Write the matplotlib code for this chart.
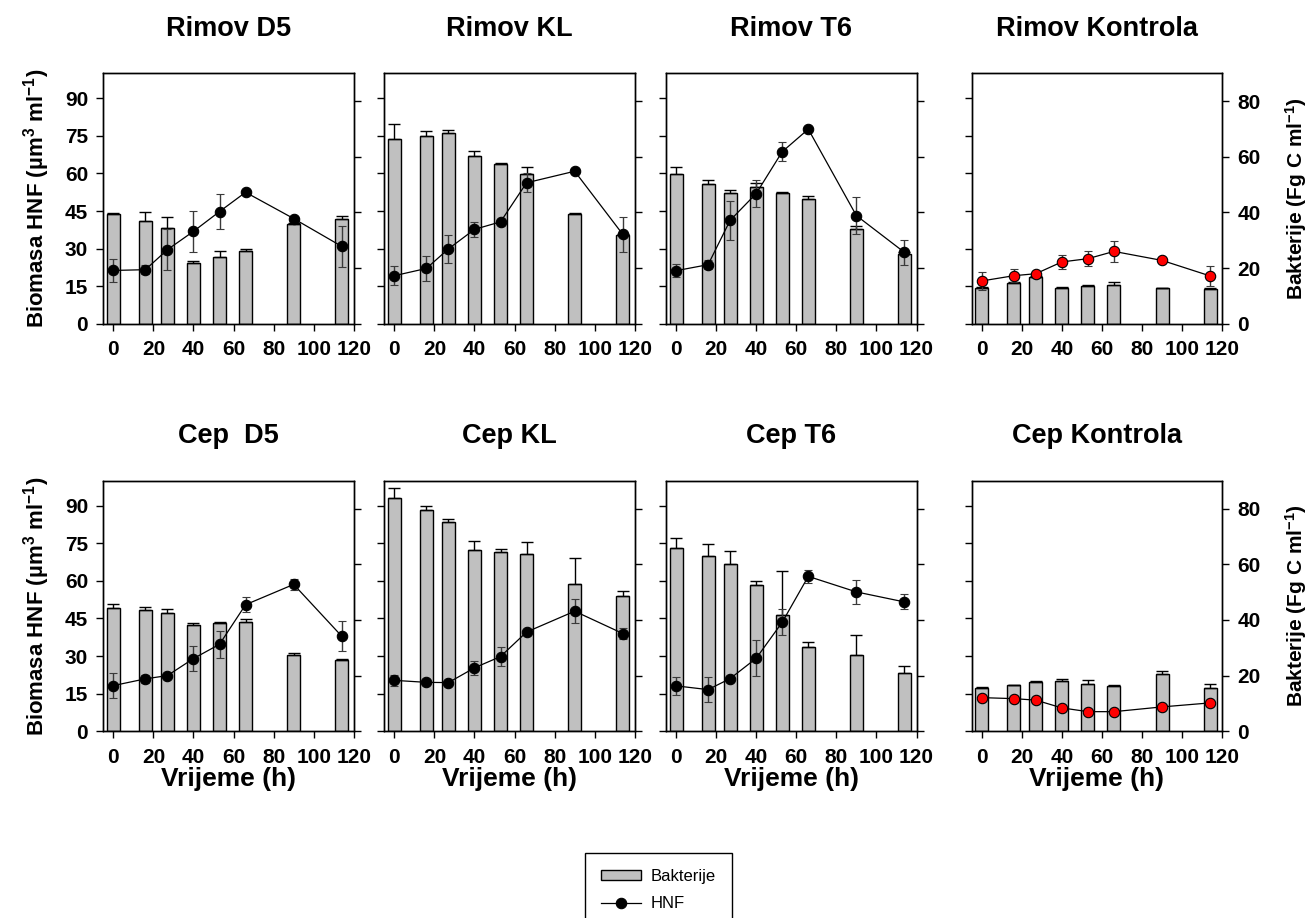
import numpy as np
import matplotlib
matplotlib.use("Agg")
import matplotlib.pyplot as plt

plt.rcParams['font.family'] = ['Liberation Sans', 'DejaVu Sans']
plt.rcParams['font.weight'] = 'bold'
plt.rcParams['axes.labelweight'] = 'bold'
plt.rcParams['mathtext.fontset'] = 'custom'
plt.rcParams['mathtext.rm'] = 'Liberation Sans:bold'
plt.rcParams['mathtext.bf'] = 'Liberation Sans:bold'
plt.rcParams['mathtext.default'] = 'bf'

########
# data #
########

time = [0, 16, 27, 40, 53, 66, 90, 114]

titles = ["Rimov D5", "Rimov KL", "Rimov T6", "Rimov Kontrola",
          "Cep  D5", "Cep KL", "Cep T6", "Cep Kontrola"]

# bakterije (bars, right axis)
bact_rimov_d5 = [39.5, 36.9, 34.5, 21.9, 24.1, 26.2, 36.0, 37.5]
bact_rimov_kl = [66.5, 67.6, 68.7, 60.3, 57.3, 53.9, 39.5, 31.9]
bact_rimov_t6 = [53.9, 50.4, 46.9, 49.2, 46.9, 44.9, 33.9, 24.9]
bact_rimov_k = [12.9, 14.7, 16.7, 13.0, 13.5, 14.0, 12.8, 12.5]
bact_cep_d5 = [44.3, 43.4, 42.5, 38.1, 38.7, 39.2, 27.5, 25.6]
bact_cep_kl = [83.8, 79.4, 75.0, 65.1, 64.4, 63.7, 52.9, 48.7]
bact_cep_t6 = [65.9, 62.9, 59.9, 52.7, 41.6, 30.3, 27.4, 20.8]
bact_cep_k = [15.6, 16.5, 17.7, 18.0, 17.1, 16.4, 20.4, 15.4]

bact_err_rimov_d5 = [0.3, 3.4, 3.7, 0.6, 2.0, 0.7, 0.3, 1.4]
bact_err_rimov_kl = [5.2, 1.7, 0.8, 1.8, 0.4, 2.4, 0.2, 0.5]
bact_err_rimov_t6 = [2.6, 1.2, 1.1, 1.5, 0.4, 1.0, 1.1, 1.0]
bact_err_rimov_k = [0.4, 0.3, 0.3, 0.2, 0.5, 1.1, 0.2, 0.4]
bact_err_cep_d5 = [1.4, 1.3, 1.3, 0.8, 0.5, 1.0, 0.5, 0.2]
bact_err_cep_kl = [3.4, 1.6, 1.1, 3.4, 1.1, 4.3, 9.5, 1.6]
bact_err_cep_t6 = [3.6, 4.2, 5.0, 1.4, 15.8, 1.6, 7.1, 2.5]
bact_err_cep_k = [0.2, 0.2, 0.4, 0.7, 1.2, 0.3, 1.4, 1.6]

# HNF (line, left axis)
hnf_rimov_d5 = [21.3, 21.6, 29.6, 36.9, 44.8, 52.5, 42.0, 30.9]
hnf_rimov_kl = [19.2, 22.1, 29.9, 37.7, 40.7, 56.3, 60.9, 35.7]
hnf_rimov_t6 = [21.2, 23.6, 41.3, 52.0, 68.7, 77.7, 43.2, 28.5]
hnf_rimov_k = [17.1, 19.2, 20.0, 24.7, 26.0, 28.9, 25.3, 19.1]
hnf_cep_d5 = [18.2, 20.9, 22.2, 29.0, 34.7, 50.5, 58.6, 37.9]
hnf_cep_kl = [20.3, 19.5, 19.4, 25.3, 29.8, 39.6, 47.9, 39.0]
hnf_cep_t6 = [18.1, 16.6, 21.0, 29.1, 43.5, 61.8, 55.6, 51.6]
hnf_cep_k = [13.4, 13.0, 12.4, 9.3, 7.8, 7.8, 9.7, 11.3]

hnf_err_rimov_d5 = [4.5, 1.8, 8.3, 8.1, 7.1, 0.5, 0.7, 8.1]
hnf_err_rimov_kl = [3.9, 5.0, 5.5, 2.9, 0.5, 3.7, 1.1, 7.0]
hnf_err_rimov_t6 = [2.5, 1.9, 7.8, 5.5, 3.9, 0.5, 7.5, 5.0]
hnf_err_rimov_k = [3.7, 2.7, 0.5, 2.9, 3.0, 4.1, 0.8, 4.1]
hnf_err_cep_d5 = [5.0, 1.7, 0.8, 4.9, 5.4, 3.1, 2.3, 5.9]
hnf_err_cep_kl = [2.1, 0.8, 0.8, 2.9, 3.9, 0.8, 4.9, 2.0]
hnf_err_cep_t6 = [3.6, 4.9, 1.2, 7.2, 5.1, 2.7, 4.7, 3.0]
hnf_err_cep_k = [0.5, 0.5, 0.5, 0.5, 0.5, 0.5, 0.5, 0.5]

bact = [bact_rimov_d5, bact_rimov_kl, bact_rimov_t6, bact_rimov_k,
        bact_cep_d5, bact_cep_kl, bact_cep_t6, bact_cep_k]
bact_err = [bact_err_rimov_d5, bact_err_rimov_kl, bact_err_rimov_t6, bact_err_rimov_k,
            bact_err_cep_d5, bact_err_cep_kl, bact_err_cep_t6, bact_err_cep_k]
hnf = [hnf_rimov_d5, hnf_rimov_kl, hnf_rimov_t6, hnf_rimov_k,
       hnf_cep_d5, hnf_cep_kl, hnf_cep_t6, hnf_cep_k]
hnf_err = [hnf_err_rimov_d5, hnf_err_rimov_kl, hnf_err_rimov_t6, hnf_err_rimov_k,
           hnf_err_cep_d5, hnf_err_cep_kl, hnf_err_cep_t6, hnf_err_cep_k]

##########
# layout #
##########

W, H = 1314, 918
lefts = [103.3, 384.3, 666.0, 971.7]
tops = [73.3, 480.7]
aw, ah = 250.5, 250.5

fig = plt.figure(figsize=(W / 100, H / 100), dpi=100)

for i in range(8):
    row, col = i // 4, i % 4
    ax = fig.add_axes([lefts[col] / W, 1 - (tops[row] + ah) / H, aw / W, ah / H])
    axr = ax.twinx()

    bars = axr.bar(time, bact[i], width=6.5, color='#c0c0c0', edgecolor='black',
                   linewidth=1, yerr=[np.zeros(len(time)), bact_err[i]],
                   error_kw=dict(ecolor='black', elinewidth=1, capsize=4.5, capthick=1))

    mfc = 'red' if col == 3 else 'black'
    eb = ax.errorbar(time, hnf[i], yerr=hnf_err[i], color='black', lw=0.9,
                     marker='o', ms=7.5, mfc=mfc, mec='black', mew=0.8,
                     ecolor='#3a3a3a', elinewidth=1, capsize=3, capthick=1)

    # line above bars
    ax.set_zorder(axr.get_zorder() + 1)
    ax.patch.set_visible(False)

    ax.set_xlim(-5, 120)
    ax.set_xticks(range(0, 121, 20))
    ax.set_ylim(0, 100)
    ax.set_yticks(range(0, 91, 15))
    axr.set_ylim(0, 90)
    axr.set_yticks(range(0, 81, 20))

    for a in (ax, axr):
        a.tick_params(direction='out', length=5, width=1, labelsize=15, pad=6)
        for s in a.spines.values():
            s.set_linewidth(1)
    ax.tick_params(axis='x', pad=7)

    if col != 0:
        ax.tick_params(labelleft=False)
    else:
        ax.set_ylabel('Biomasa HNF (µm$^{3}$ ml$^{-1}$)', fontsize=16, labelpad=9)
    if col != 3:
        axr.tick_params(labelright=False)
    else:
        axr.set_ylabel('Bakterije (Fg C ml$^{-1}$)', fontsize=15, labelpad=16)

    if row == 1:
        ax.set_xlabel('Vrijeme (h)', fontsize=19, labelpad=0)

    ax.set_title(titles[i], fontsize=19.5, fontweight='bold', pad=27)

    if i == 0:
        leg_handles = [bars.patches[0], eb[0]]

leg = fig.legend(leg_handles, ['Bakterije', 'HNF'], loc='upper left',
                 bbox_to_anchor=(585 / W, 1 - 853 / H), borderaxespad=0, fancybox=False,
                 edgecolor='black', framealpha=1, prop={'weight': 'normal', 'size': 12},
                 handlelength=2.4, handleheight=0.5, handletextpad=0.6,
                 borderpad=0.95, labelspacing=0.75)
leg.get_frame().set_linewidth(1)

fig.savefig("out.png", dpi=100)
